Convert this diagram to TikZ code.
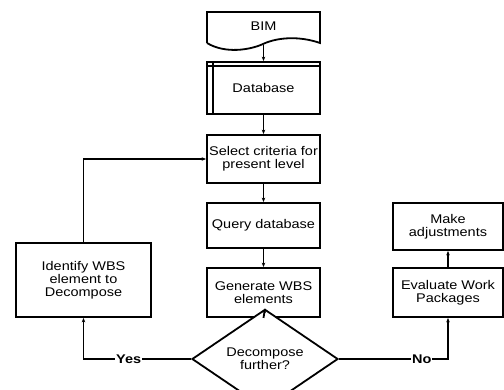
\documentclass[tikz,border=0pt]{standalone}
\usepackage{fontspec}
\setmainfont{Liberation Sans}[FakeStretch=1.15]
\usetikzlibrary{arrows.meta,shapes.geometric}
\begin{document}
\begin{tikzpicture}[x=1pt,y=-1pt,
  txt/.style={font=\fontsize{12.6}{13.2}\selectfont, align=center},
  box/.style={txt, draw, line width=1.8pt, fill=white, inner sep=0pt},
  conn/.style={line width=1.8pt, -{Stealth[length=4.5pt,width=3.5pt]}},
  plain/.style={line width=1.8pt},
  lbl/.style={font=\fontsize{12.6}{13}\selectfont\bfseries, fill=white, inner sep=1pt}]
\useasboundingbox (0,0) rectangle (504,390);
% BIM document shape
\draw[plain] (207,43) -- (207,12) -- (320,12) -- (320,43)
  .. controls (300,36) and (278,37) .. (263,44)
  .. controls (250,50) and (225,54) .. (207,43);
\node[txt] (bim) at (263.5,26) {BIM};
\coordinate (bimb) at (263.5,45.5);
% boxes
\node[box, minimum width=113pt, minimum height=52pt] (db) at (263.5,88) {Database};
\draw[plain] ([yshift=-5pt]db.north west) -- ([yshift=-5pt]db.north east);
\draw[plain] ([xshift=7pt]db.north west) -- ([xshift=7pt]db.south west);
\node[box, minimum width=113pt, minimum height=48pt] (sel) at (263.5,159) {Select criteria for\\present level};
\node[box, minimum width=113pt, minimum height=45pt] (qry) at (263.5,225.5) {Query database};
\node[box, minimum width=113pt, minimum height=49pt] (gen) at (263.5,292.5) {Generate WBS\\elements};
\node[txt, draw, line width=1.8pt, diamond, fill=white, inner sep=0pt,
      minimum width=146pt, minimum height=66pt] (dec) at (265,359) {Decompose\\further?};
\node[box, minimum width=135pt, minimum height=74pt] (idf) at (83.5,280) {Identify WBS\\element to\\Decompose};
\node[box, minimum width=110pt, minimum height=49pt] (eva) at (448,292.5) {Evaluate Work\\Packages};
\node[box, minimum width=110pt, minimum height=47pt] (mak) at (448,226.5) {Make\\adjustments};
% connectors
\draw[conn] (bimb) -- (db.north);
\draw[conn] (db.south) -- (sel.north);
\draw[conn] (sel.south) -- (qry.north);
\draw[conn] (qry.south) -- (gen.north);
\draw[conn] (gen.south) -- (dec.north);
\draw[conn] (idf.north) |- (sel.west);
\draw[conn] (dec.west) -| node[lbl, pos=0.29] {Yes} (idf.south);
\draw[conn] (dec.east) -| node[lbl, pos=0.38] {No} (eva.south);
\draw[conn] (eva.north) -- (mak.south);
\end{tikzpicture}
\end{document}
